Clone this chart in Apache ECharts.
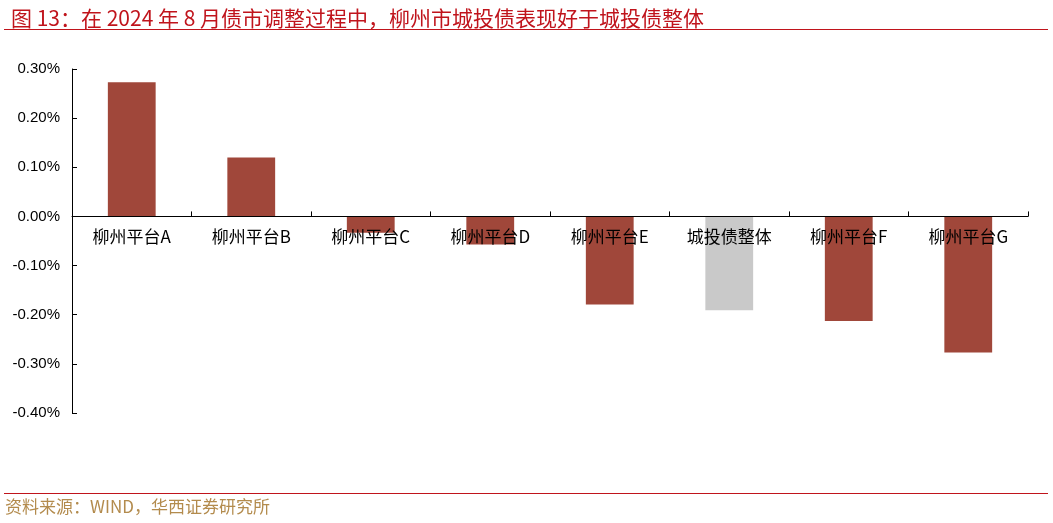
<!DOCTYPE html>
<html>
<head>
<meta charset="utf-8">
<script src="https://cdn.jsdelivr.net/npm/echarts@6/dist/echarts.min.js"></script>
<style>
html,body{margin:0;padding:0;background:#fff;}
#chart{width:1053px;height:523px;}
</style>
</head>
<body>
<div id="chart"></div>
<script>
var categories = ['柳州平台A','柳州平台B','柳州平台C','柳州平台D','柳州平台E','城投债整体','柳州平台F','柳州平台G'];
var values = [0.273, 0.120, -0.033, -0.057, -0.179, -0.191, -0.213, -0.277];
var highlightCategory = '城投债整体';
var titleText = '图 13：在 2024 年 8 月债市调整过程中，柳州市城投债表现好于城投债整体';
var sourceText = '资料来源：WIND，华西证券研究所';

var chart = echarts.init(document.getElementById('chart'));
var barData = values.map(function (v, i) {
  return {
    value: v,
    itemStyle: { color: categories[i] === highlightCategory ? '#C9C9C9' : '#A0473A' }
  };
});
chart.setOption({
  animation: false,
  backgroundColor: '#fff',
  title: {
    text: titleText,
    left: 6, top: 3,
    textStyle: { color: '#C0141C', fontSize: 21, fontWeight: 'normal', fontFamily: 'Noto Sans CJK SC' }
  },
  graphic: [
    { type: 'line', shape: { x1: 4, y1: 29.5, x2: 1048, y2: 29.5 }, style: { stroke: '#C0141C', lineWidth: 1.2 } },
    { type: 'line', shape: { x1: 4, y1: 493.5, x2: 1048, y2: 493.5 }, style: { stroke: '#C0141C', lineWidth: 1.2 } },
    { type: 'text', left: 5, top: 498, style: { text: sourceText, fill: '#B38B4D', fontSize: 17, fontFamily: 'Noto Sans CJK SC' } }
  ],
  grid: { left: 72, right: 25, top: 69, bottom: 110, containLabel: false },
  xAxis: {
    type: 'category',
    data: categories,
    z: 10,
    axisLine: { onZero: true, lineStyle: { color: '#000', width: 1 } },
    axisTick: { show: true, inside: true, length: 5, alignWithLabel: false, lineStyle: { color: '#000' } },
    axisLabel: { color: '#000', fontSize: 17, margin: -185, fontFamily: 'Noto Sans CJK SC', interval: 0 },
    splitLine: { show: false }
  },
  yAxis: {
    type: 'value',
    min: -0.4, max: 0.3, interval: 0.1,
    z: 10,
    axisLine: { show: true, lineStyle: { color: '#000', width: 1 } },
    axisTick: { show: true, inside: true, length: 5, lineStyle: { color: '#000' } },
    axisLabel: {
      color: '#000', fontSize: 15, margin: 12, fontFamily: 'Liberation Sans',
      formatter: function (v) { return v.toFixed(2) + '%'; }
    },
    splitLine: { show: false }
  },
  series: [{
    type: 'bar',
    data: barData,
    barWidth: '40%',
    z: 1
  }]
});
</script>
</body>
</html>
